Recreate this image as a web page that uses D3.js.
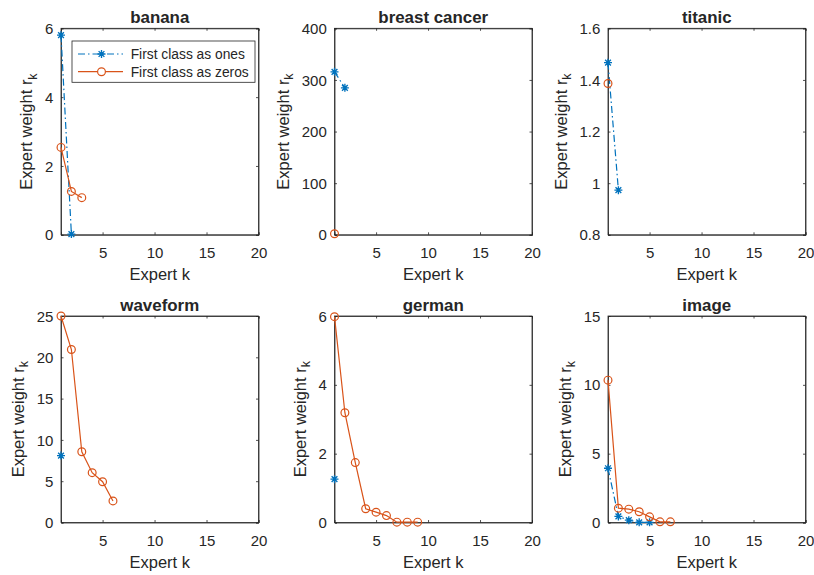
<!DOCTYPE html>
<html>
<head>
<meta charset="utf-8">
<script src="https://cdn.jsdelivr.net/npm/d3@7"></script>
<style>
  html, body { margin: 0; padding: 0; background: #fff; }
  svg { display: block; }
  text { font-family: "Liberation Sans", Arial, Helvetica, sans-serif; fill: #262626; }
</style>
</head>
<body>
<svg id="chart" width="814" height="575"></svg>
<script>
// ---------------- data ----------------
const titles = ["banana", "breast cancer", "titanic", "waveform", "german", "image"];
const onesSeries = [
  [5.8, 0.02],
  [315.7, 284.7],
  [1.467, 0.973],
  [8.1],
  [1.26],
  [3.94, 0.44, 0.17, 0.01, 0.01]
];
const zerosSeries = [
  [2.54, 1.26, 1.08],
  [2],
  [1.386],
  [25, 20.94, 8.56, 6.03, 4.94, 2.61],
  [5.98, 3.19, 1.74, 0.40, 0.30, 0.20, 0.01, 0.01, 0.01],
  [10.34, 1.04, 0.97, 0.78, 0.41, 0.05, 0.05]
];
const yDomains = [[0, 6], [0, 400], [0.8, 1.6], [0, 25], [0, 6], [0, 15]];
const yTickValues = [
  [0, 2, 4, 6],
  [0, 100, 200, 300, 400],
  [0.8, 1, 1.2, 1.4, 1.6],
  [0, 5, 10, 15, 20, 25],
  [0, 2, 4, 6],
  [0, 5, 10, 15]
];
const xDomain = [1, 20];
const xTickValues = [5, 10, 15, 20];
const legendLabels = ["First class as ones", "First class as zeros"];
const xLabel = "Expert k";
const yLabelMain = "Expert weight r";
const yLabelSub = "k";

// ---------------- style / layout ----------------
const BLUE = "#0072BD", ORANGE = "#D95319", AX = "#262626";
const colLeft = [61, 334.5, 608];
const rowTop = [28.3, 316];
const pw = 197.5, ph = 206.5;
const tickLen = 2.5;
const tickFont = 15, labelFont = 16.5, titleFont = 16.9, legendFont = 13.8;
const LW = 1.2;

const svg = d3.select("#chart");
svg.append("rect").attr("width", 814).attr("height", 575).attr("fill", "#fff");

function starPath(r) {
  const d = r * 0.72;
  return `M0,${-r}L0,${r}M${-r},0L${r},0M${-d},${-d}L${d},${d}M${-d},${d}L${d},${-d}`;
}

function drawMarkersOnes(g, pts, x, y) {
  g.selectAll(null).data(pts).enter().append("path")
    .attr("d", starPath(4))
    .attr("transform", d => `translate(${x(d.k)},${y(d.v)})`)
    .attr("stroke", BLUE).attr("stroke-width", 1.35).attr("fill", "none");
}
function drawMarkersZeros(g, pts, x, y) {
  g.selectAll(null).data(pts).enter().append("circle")
    .attr("cx", d => x(d.k)).attr("cy", d => y(d.v)).attr("r", 3.9)
    .attr("stroke", ORANGE).attr("stroke-width", 1.2).attr("fill", "none");
}

titles.forEach((title, i) => {
  const r = Math.floor(i / 3), c = i % 3;
  const left = colLeft[c], top = rowTop[r];
  const g = svg.append("g").attr("transform", `translate(${left},${top})`);

  const x = d3.scaleLinear().domain(xDomain).range([0, pw]);
  const y = d3.scaleLinear().domain(yDomains[i]).range([ph, 0]);

  // box
  g.append("rect").attr("x", 0).attr("y", 0).attr("width", pw).attr("height", ph)
    .attr("fill", "#fff").attr("stroke", AX).attr("stroke-width", 0.8);

  // axes via d3 axis (inner ticks)
  const fmt = v => String(+v.toFixed(2));
  const axB = g.append("g").attr("transform", `translate(0,${ph})`)
    .call(d3.axisBottom(x).tickValues(xTickValues).tickSize(-tickLen).tickPadding(10).tickFormat(fmt));
  const axT = g.append("g")
    .call(d3.axisTop(x).tickValues(xTickValues).tickSize(-tickLen).tickFormat(""));
  const axL = g.append("g")
    .call(d3.axisLeft(y).tickValues(yTickValues[i]).tickSize(-tickLen).tickPadding(10).tickFormat(fmt));
  const axR = g.append("g").attr("transform", `translate(${pw},0)`)
    .call(d3.axisRight(y).tickValues(yTickValues[i]).tickSize(-tickLen).tickFormat(""));
  [axB, axT, axL, axR].forEach(a => {
    a.select(".domain").attr("stroke", AX).attr("stroke-width", 0.8);
    a.selectAll(".tick line").attr("stroke", AX).attr("stroke-width", 0.8);
    a.selectAll("text").attr("font-size", tickFont).attr("font-family", null).attr("fill", AX);
  });
  axB.selectAll(".tick text").attr("dy", null).attr("y", 23);
  axL.selectAll(".tick text").attr("dy", "0.34em").attr("x", -7.7);

  // widest y tick label
  let maxW = 0;
  axL.selectAll(".tick text").each(function () { maxW = Math.max(maxW, this.getBBox().width); });

  // title
  g.append("text").attr("x", pw / 2).attr("y", -5).attr("text-anchor", "middle")
    .attr("font-size", titleFont).attr("font-weight", "bold").attr("fill", "#000").text(title);

  // x label
  g.append("text").attr("x", pw / 2).attr("y", ph + 45.7).attr("text-anchor", "middle")
    .attr("font-size", labelFont).text(xLabel);

  // y label
  const yl = g.append("text")
    .attr("transform", `translate(${-maxW - 20.5},${ph / 2}) rotate(-90)`)
    .attr("text-anchor", "middle").attr("font-size", labelFont);
  yl.append("tspan").text(yLabelMain);
  yl.append("tspan").attr("font-size", labelFont * 0.75).attr("dy", 4.5).text(yLabelSub);

  // data
  const onesPts = onesSeries[i].map((v, k) => ({ k: k + 1, v }));
  const zerosPts = zerosSeries[i].map((v, k) => ({ k: k + 1, v }));
  const line = d3.line().x(d => x(d.k)).y(d => y(d.v));

  g.append("path").datum(onesPts).attr("d", line).attr("fill", "none")
    .attr("stroke", BLUE).attr("stroke-width", LW).attr("stroke-dasharray", "7,3,1.5,3");
  drawMarkersOnes(g, onesPts, x, y);

  g.append("path").datum(zerosPts).attr("d", line).attr("fill", "none")
    .attr("stroke", ORANGE).attr("stroke-width", LW);
  drawMarkersZeros(g, zerosPts, x, y);

  // legend on first panel
  if (i === 0) {
    const lg = svg.append("g").attr("transform", "translate(72,41)");
    lg.append("rect").attr("width", 183).attr("height", 41.3).attr("fill", "#fff")
      .attr("stroke", AX).attr("stroke-width", 0.8);
    const rows = [13, 30.7];
    // ones
    lg.append("line").attr("x1", 6).attr("x2", 51).attr("y1", rows[0]).attr("y2", rows[0])
      .attr("stroke", BLUE).attr("stroke-width", LW).attr("stroke-dasharray", "7,3,1.5,3");
    lg.append("path").attr("d", starPath(4)).attr("transform", `translate(29.5,${rows[0]})`)
      .attr("stroke", BLUE).attr("stroke-width", 1.35).attr("fill", "none");
    // zeros
    lg.append("line").attr("x1", 6).attr("x2", 51).attr("y1", rows[1]).attr("y2", rows[1])
      .attr("stroke", ORANGE).attr("stroke-width", LW);
    lg.append("circle").attr("cx", 29.5).attr("cy", rows[1]).attr("r", 3.9)
      .attr("stroke", ORANGE).attr("stroke-width", 1.2).attr("fill", "#fff");
    legendLabels.forEach((t, j) => {
      lg.append("text").attr("x", 58.7).attr("y", rows[j]).attr("dy", "0.36em")
        .attr("font-size", legendFont).attr("fill", "#000").text(t);
    });
  }
});
</script>
</body>
</html>
